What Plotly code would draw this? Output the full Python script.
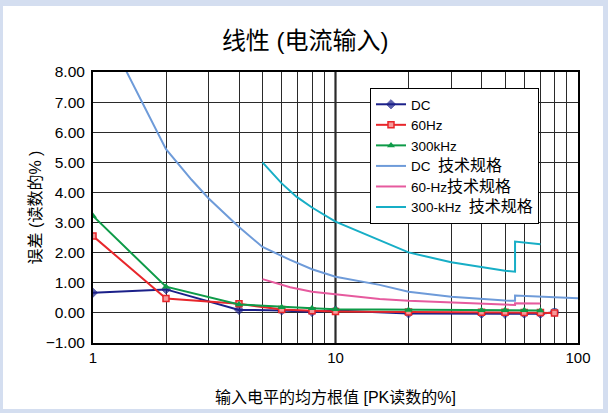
import plotly.graph_objects as go

# ---- data ----
x_meas = [1, 2, 4, 6, 8, 10, 20, 40, 50, 60, 70, 80]
dc_err = [0.67, 0.78, 0.10, 0.08, 0.03, 0.08, -0.02, -0.03, -0.03, -0.03, -0.03, 0.02]
hz60_err = [2.55, 0.48, 0.30, 0.11, 0.07, 0.05, 0.03, 0.02, 0.02, 0.01, 0.01, 0.00]
x_300k = [1, 2, 4, 6, 8, 10, 20, 40, 50, 60, 70]
khz300_err = [3.22, 0.87, 0.28, 0.19, 0.15, 0.12, 0.10, 0.09, 0.09, 0.09, 0.08]

x_dc_spec = [1, 2, 2.55, 3, 3.66, 4, 5, 6.5, 8, 10, 15.2, 20, 30, 40, 50, 55, 55, 100]
dc_spec = [10.2, 5.44, 4.42, 3.8, 3.14, 2.85, 2.19, 1.76, 1.45, 1.2, 0.93, 0.70, 0.54, 0.46, 0.41, 0.40, 0.58, 0.49]

x_60_spec = [5, 6.5, 8, 10, 15.2, 20, 30, 40, 50, 55, 55, 70]
hz60_spec = [1.12, 0.85, 0.70, 0.62, 0.46, 0.40, 0.34, 0.30, 0.26, 0.26, 0.32, 0.31]

x_300_spec = [5, 6, 6.9, 8, 10, 15.2, 20, 30, 40, 50, 55, 55, 70]
khz300_spec = [5.0, 4.3, 3.86, 3.5, 3.03, 2.42, 2.01, 1.68, 1.51, 1.40, 1.37, 2.37, 2.28]

x_tickvals = [1, 2, 3, 4, 5, 6, 7, 8, 9, 10, 20, 30, 40, 50, 60, 70, 80, 90, 100]
x_ticktext = ["1", "", "", "", "", "", "", "", "", "10", "", "", "", "", "", "", "", "", "100"]
y_tickvals = [-1, 0, 1, 2, 3, 4, 5, 6, 7, 8]

title_text = "线性 (电流输入)"
x_title = "输入电平的均方根值 [PK读数的%]"
y_title = "误差 (读数的% )"
spec_word = "技术规格"

# ---- styles ----
NAVY = "#1B2089"
RED = "#E8262B"
GREEN = "#0E9B48"
LBLUE = "#6E9BD9"
PINK = "#E65A9E"
CYAN = "#17AEC6"
FONT = "Liberation Sans, Arial, Noto Sans CJK SC"

def big(s):
    return "<span style='font-size:16px'>" + s + "</span>"

fig = go.Figure()

fig.add_trace(go.Scatter(
    x=x_meas, y=dc_err, name="DC", mode="lines+markers",
    line=dict(color=NAVY, width=2),
    marker=dict(symbol=["diamond"] * 11 + ["circle"], size=[7] * 11 + [8],
                color=[NAVY] * 11 + [CYAN]),
))
fig.add_trace(go.Scatter(
    x=x_meas, y=hz60_err, name="60Hz", mode="lines+markers",
    line=dict(color=RED, width=2),
    marker=dict(symbol="square", size=6, color="#F59A9A", line=dict(color=RED, width=1.5)),
))
fig.add_trace(go.Scatter(
    x=x_300k, y=khz300_err, name="300kHz", mode="lines+markers",
    line=dict(color=GREEN, width=2),
    marker=dict(symbol="triangle-up", size=7, color=GREEN),
))
fig.add_trace(go.Scatter(
    x=x_dc_spec, y=dc_spec, name="DC  " + big(spec_word), mode="lines",
    line=dict(color=LBLUE, width=2),
))
fig.add_trace(go.Scatter(
    x=x_60_spec, y=hz60_spec, name="60-Hz" + big(spec_word), mode="lines",
    line=dict(color=PINK, width=2),
))
fig.add_trace(go.Scatter(
    x=x_300_spec, y=khz300_spec, name="300-kHz  " + big(spec_word), mode="lines",
    line=dict(color=CYAN, width=2),
))

L, R, T, B = 93, 30, 72, 70
W, H = 608, 413
pw, ph = W - L - R, H - T - B

def px_to_paper_x(px):
    return (px - L) / pw

def px_to_paper_y(py):
    return (H - B - py) / ph

fig.update_layout(
    width=W, height=H,
    margin=dict(l=L, r=R, t=T, b=B, autoexpand=False),
    paper_bgcolor="#D4DEF0",
    plot_bgcolor="white",
    font=dict(family=FONT, size=14, color="black"),
    title=dict(text=title_text, x=0.502, xanchor="center", y=1 - 41 / H, yanchor="middle",
               font=dict(size=24, family=FONT)),
    showlegend=True,
    legend=dict(
        x=px_to_paper_x(370), y=px_to_paper_y(88), xanchor="left", yanchor="top",
        bgcolor="white", bordercolor="black", borderwidth=1,
        font=dict(size=13.5, family=FONT), itemwidth=30, tracegroupgap=0,
    ),
    shapes=[
        dict(type="rect", xref="paper", yref="paper", layer="below",
             x0=px_to_paper_x(3), x1=px_to_paper_x(603),
             y0=px_to_paper_y(409), y1=px_to_paper_y(6),
             fillcolor="white", line=dict(width=0)),
        dict(type="line", xref="x", yref="paper", x0=10, x1=10, y0=0, y1=1,
             line=dict(color="black", width=2), layer="below"),
    ],
)

fig.update_xaxes(
    type="log", range=[0, 2], automargin=False,
    tickvals=x_tickvals, ticktext=x_ticktext,
    showgrid=True, gridcolor="#2a2a2a", gridwidth=1,
    showline=True, linecolor="black", linewidth=2, mirror=True,
    ticks="",
    tickfont=dict(size=15, family=FONT),
    title=dict(text=x_title, standoff=27, font=dict(size=16, family=FONT)),
)
fig.update_yaxes(
    range=[-1, 8], tickvals=y_tickvals, tickformat=".2f", automargin=False,
    showgrid=True, gridcolor="#2a2a2a", gridwidth=1, zeroline=False,
    showline=True, linecolor="black", linewidth=2, mirror=True,
    ticks="outside", ticklen=3, tickcolor="rgba(0,0,0,0)",
    tickfont=dict(size=15.5, family=FONT),
    title=dict(text=y_title, standoff=0, font=dict(size=16, family=FONT)),
)

fig.write_html("out.html", config={"displayModeBar": False},
               post_script="document.body.style.margin='0';")
